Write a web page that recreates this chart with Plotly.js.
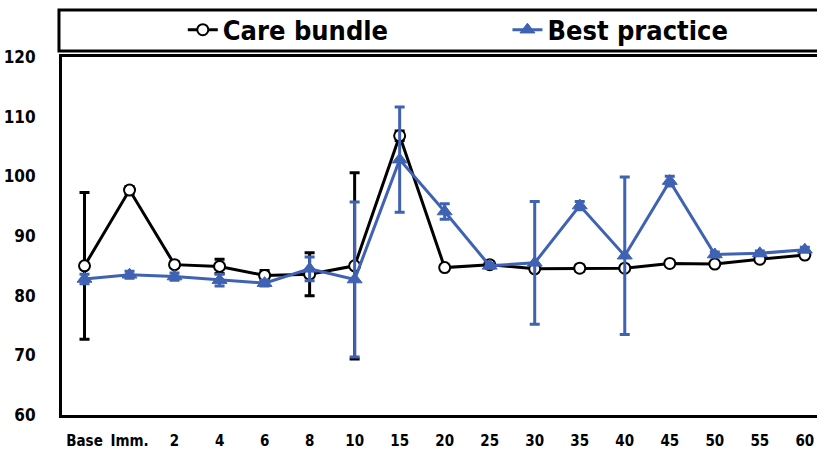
<!DOCTYPE html>
<html>
<head>
<meta charset="utf-8">
<script src="https://cdn.plot.ly/plotly-3.0.1.min.js"></script>
<style>html,body{margin:0;padding:0;background:#fff;}#chart{width:817px;height:450px;}</style>
</head>
<body>
<div id="chart"></div>
<script>
const categories = ["Base", "Imm.", "2", "4", "6", "8", "10", "15", "20", "25", "30", "35", "40", "45", "50", "55", "60"];
const careBundle = [85.0, 97.7, 85.2, 84.9, 83.4, 83.6, 85.0, 106.8, 84.7, 85.2, 84.5, 84.6, 84.6, 85.4, 85.3, 86.1, 86.8];
const careBundleErr = [12.3, 0.6, 0.5, 1.2, 0.8, 3.6, 15.6, 0.8, 0.4, 0.4, 0.4, 0.5, 0.4, 0.4, 0.4, 0.4, 0.4];
const bestPractice = [82.8, 83.5, 83.2, 82.6, 82.1, 84.5, 82.7, 102.8, 94.1, 85.0, 85.5, 95.1, 86.7, 99.2, 86.9, 87.1, 87.7];
const bestPracticeErr = [0.8, 0.6, 0.6, 1.0, 0.5, 2.0, 13.0, 8.8, 1.3, 0.4, 10.3, 0.7, 13.2, 0.8, 0.4, 0.4, 0.4];

const blue = "#3F62B2";
const traces = [
  {
    type: "scatter", mode: "lines+markers", name: "Care bundle", legend: "legend",
    x: categories, y: careBundle,
    error_y: {type: "data", array: careBundleErr, visible: true, color: "#000", thickness: 3, width: 5},
    line: {color: "#000", width: 3},
    marker: {symbol: "circle", size: 11, color: "#fff", line: {color: "#000", width: 2}}
  },
  {
    type: "scatter", mode: "lines+markers", name: "Best practice", legend: "legend2",
    x: categories, y: bestPractice,
    error_y: {type: "data", array: bestPracticeErr, visible: true, color: blue, thickness: 3, width: 5},
    line: {color: blue, width: 3},
    marker: {symbol: "triangle-up", size: 13, color: blue, line: {color: blue, width: 1}}
  }
];

const font = "'DejaVu Sans Condensed', 'Liberation Sans', Arial, sans-serif";
const legendFont = {family: font, size: 27, color: "#000", weight: "bold"};
const layout = {
  width: 817, height: 450,
  margin: {l: 62, r: 0, t: 57, b: 35, pad: 0, autoexpand: false},
  paper_bgcolor: "#fff", plot_bgcolor: "#fff",
  showlegend: true,
  font: {family: font, color: "#000"},
  xaxis: {
    type: "category", range: [-0.5, 16.27],
    showgrid: false, zeroline: false,
    showline: true, linecolor: "#000", linewidth: 3, mirror: true,
    ticks: "", ticklabelstandoff: 10,
    tickfont: {family: font, size: 15, color: "#000", weight: "bold"},
    fixedrange: true
  },
  yaxis: {
    range: [60, 120], tickvals: [60, 70, 80, 90, 100, 110, 120],
    showgrid: false, zeroline: false,
    showline: true, linecolor: "#000", linewidth: 3, mirror: false,
    ticks: "", ticklabelstandoff: 20,
    tickfont: {family: font, size: 17, color: "#000", weight: "bold"},
    fixedrange: true
  },
  legend: {
    orientation: "h", x: 0.160, xanchor: "left", y: 1.075, yanchor: "middle",
    bgcolor: "rgba(0,0,0,0)", borderwidth: 0, font: legendFont
  },
  legend2: {
    orientation: "h", x: 0.590, xanchor: "left", y: 1.075, yanchor: "middle",
    bgcolor: "rgba(0,0,0,0)", borderwidth: 0, font: legendFont
  },
  shapes: [
    {type: "rect", xref: "paper", yref: "paper", x0: -0.004, x1: 1.1, y0: 1.017, y1: 1.131,
     line: {color: "#000", width: 3}, fillcolor: "rgba(0,0,0,0)"}
  ]
};
Plotly.newPlot("chart", traces, layout, {displayModeBar: false, staticPlot: true});
</script>
</body>
</html>
